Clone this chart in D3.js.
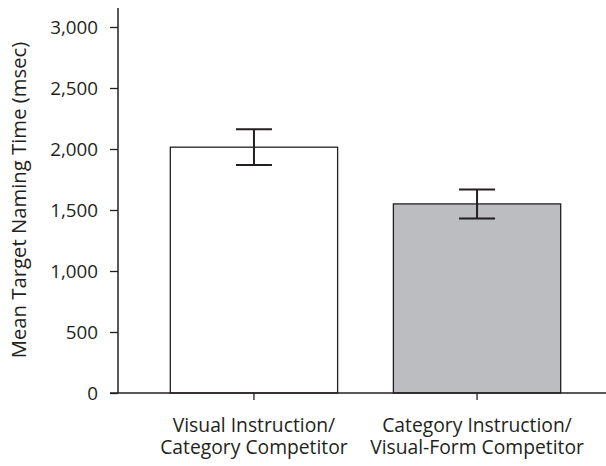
<!DOCTYPE html>
<html>
<head>
<meta charset="utf-8">
<script src="https://cdn.jsdelivr.net/npm/d3@7"></script>
<style>
  html, body { margin: 0; padding: 0; background: #fff; }
  svg { display: block; }
  text { font-family: "Open Sans", "Noto Sans", sans-serif; fill: #231f20; }
</style>
</head>
<body>
<script>
// Condition labels (two lines each)
const categories = [
  ["Visual Instruction/", "Category Competitor"],
  ["Category Instruction/", "Visual-Form Competitor"]
];
// Mean naming time (msec) and error (± msec)
const means = [2015, 1550];
const errors = [147, 119];
const barFills = ["#ffffff", "#bcbdc0"];
const yTicks = [0, 500, 1000, 1500, 2000, 2500, 3000];

const W = 606, H = 466;
const axisX = 118, axisY = 393, topY = 8, rightX = 606;
const tickFont = 18.8, catFont = 19.3, titleFont = 20.3;

const svg = d3.select("body").append("svg")
  .attr("width", W).attr("height", H);

const y = d3.scaleLinear().domain([0, 3000]).range([axisY, 27]);
const x = d3.scaleBand().domain(d3.range(categories.length))
  .range([148, 583]).paddingInner(0.25).paddingOuter(0.1);

// Bars
svg.selectAll("rect.bar").data(means).join("rect")
  .attr("class", "bar")
  .attr("x", (d, i) => x(i))
  .attr("y", d => y(d))
  .attr("width", x.bandwidth())
  .attr("height", d => axisY - y(d))
  .attr("fill", (d, i) => barFills[i])
  .attr("stroke", "#231f20")
  .attr("stroke-width", 1.3);

// Error bars
const capHalf = 18;
const eb = svg.selectAll("g.err").data(means).join("g").attr("class", "err")
  .attr("stroke", "#231f20").attr("stroke-width", 2);
eb.append("line")
  .attr("x1", (d, i) => x(i) + x.bandwidth() / 2)
  .attr("x2", (d, i) => x(i) + x.bandwidth() / 2)
  .attr("y1", (d, i) => y(d + errors[i]))
  .attr("y2", (d, i) => y(d - errors[i]));
eb.append("line")
  .attr("x1", (d, i) => x(i) + x.bandwidth() / 2 - capHalf)
  .attr("x2", (d, i) => x(i) + x.bandwidth() / 2 + capHalf)
  .attr("y1", (d, i) => y(d + errors[i]))
  .attr("y2", (d, i) => y(d + errors[i]));
eb.append("line")
  .attr("x1", (d, i) => x(i) + x.bandwidth() / 2 - capHalf)
  .attr("x2", (d, i) => x(i) + x.bandwidth() / 2 + capHalf)
  .attr("y1", (d, i) => y(d - errors[i]))
  .attr("y2", (d, i) => y(d - errors[i]));

// Y axis
const yAxis = svg.append("g").attr("transform", `translate(${axisX},0)`)
  .call(d3.axisLeft(y).tickValues(yTicks).tickSize(8).tickPadding(12)
    .tickFormat(d3.format(",")));
yAxis.select(".domain").remove();
yAxis.append("line").attr("x1", 0).attr("x2", 0).attr("y1", topY).attr("y2", axisY)
  .attr("stroke", "#231f20").attr("stroke-width", 1.5);
yAxis.selectAll(".tick line").attr("stroke", "#231f20").attr("stroke-width", 1.3);
yAxis.selectAll(".tick text").attr("font-size", tickFont).attr("fill", "#231f20")
  .style("font-family", "'Open Sans', sans-serif");

// X axis
const xAxis = svg.append("g").attr("transform", `translate(0,${axisY})`)
  .call(d3.axisBottom(x).tickSize(7).tickFormat(""));
xAxis.select(".domain").remove();
xAxis.append("line").attr("x1", axisX - 8).attr("x2", rightX).attr("y1", 0).attr("y2", 0)
  .attr("stroke", "#231f20").attr("stroke-width", 1.5);
xAxis.selectAll(".tick line").attr("stroke", "#231f20").attr("stroke-width", 1.3);

// Category labels
categories.forEach((lines, i) => {
  const t = svg.append("text")
    .attr("x", x(i) + x.bandwidth() / 2)
    .attr("text-anchor", "middle")
    .attr("font-size", catFont);
  lines.forEach((s, j) => {
    t.append("tspan").attr("x", x(i) + x.bandwidth() / 2)
      .attr("y", 431.5 + j * 22.5).text(s);
  });
});

// Y axis title
svg.append("text")
  .attr("transform", "translate(26,200) rotate(-90)")
  .attr("text-anchor", "middle")
  .attr("font-size", titleFont)
  .text("Mean Target Naming Time (msec)");
</script>
</body>
</html>
